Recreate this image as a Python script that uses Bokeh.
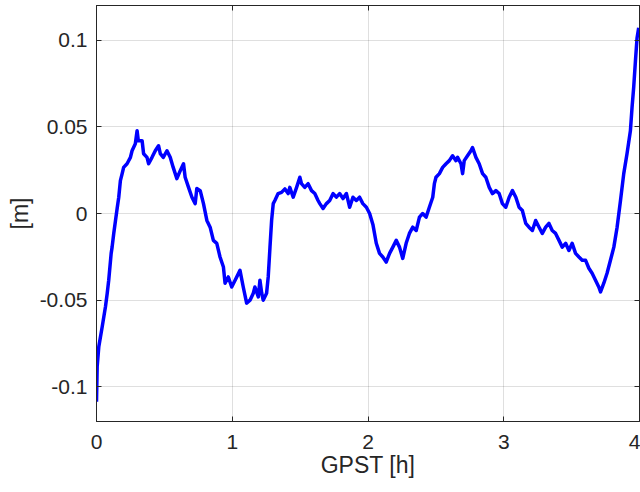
from bokeh.plotting import figure
from bokeh.models import LinearAxis, FixedTicker, Range1d
from bokeh.embed import file_html
from bokeh.resources import INLINE

# ---- data ----
gpst_h = [0.000, 0.005, 0.017, 0.042, 0.066, 0.079, 0.090, 0.108, 0.115, 0.127,
          0.140, 0.152, 0.164, 0.176, 0.189, 0.200, 0.225, 0.250, 0.262, 0.286,
          0.299, 0.308, 0.336, 0.347, 0.372, 0.384, 0.409, 0.433, 0.457, 0.470,
          0.492, 0.519, 0.543, 0.565, 0.592, 0.617, 0.641, 0.653, 0.678, 0.703,
          0.727, 0.739, 0.764, 0.788, 0.813, 0.837, 0.861, 0.886, 0.910, 0.935,
          0.947, 0.971, 0.996, 1.021, 1.057, 1.081, 1.106, 1.131, 1.155, 1.167,
          1.192, 1.204, 1.217, 1.228, 1.253, 1.265, 1.278, 1.290, 1.302, 1.314,
          1.338, 1.363, 1.388, 1.412, 1.424, 1.449, 1.474, 1.498, 1.510, 1.534,
          1.559, 1.584, 1.608, 1.632, 1.645, 1.669, 1.694, 1.718, 1.743, 1.767,
          1.791, 1.816, 1.841, 1.865, 1.889, 1.914, 1.938, 1.962, 1.988, 2.012,
          2.036, 2.061, 2.085, 2.109, 2.134, 2.159, 2.183, 2.208, 2.232, 2.256,
          2.281, 2.305, 2.330, 2.355, 2.379, 2.403, 2.428, 2.452, 2.477, 2.489,
          2.501, 2.526, 2.550, 2.575, 2.599, 2.623, 2.648, 2.660, 2.685, 2.697,
          2.709, 2.733, 2.758, 2.770, 2.795, 2.819, 2.844, 2.868, 2.893, 2.917,
          2.942, 2.966, 2.990, 3.015, 3.040, 3.064, 3.089, 3.113, 3.137, 3.162,
          3.186, 3.211, 3.235, 3.260, 3.284, 3.309, 3.333, 3.357, 3.382, 3.407,
          3.431, 3.456, 3.480, 3.504, 3.529, 3.554, 3.578, 3.603, 3.627, 3.651,
          3.676, 3.700, 3.713, 3.737, 3.761, 3.786, 3.811, 3.835, 3.860, 3.884,
          3.908, 3.933, 3.945, 3.957, 3.970, 3.982, 3.994]

error_m = [-0.1086, -0.0883, -0.0768, -0.0653, -0.0538, -0.0460, -0.0385, -0.0230, -0.0194, -0.0115,
           -0.0040, 0.0029, 0.0094, 0.0190, 0.0230, 0.0266, 0.0287, 0.0324, 0.0362, 0.0402,
           0.0477, 0.0420, 0.0420, 0.0345, 0.0324, 0.0287, 0.0324, 0.0362, 0.0391, 0.0345,
           0.0324, 0.0362, 0.0324, 0.0266, 0.0201, 0.0247, 0.0287, 0.0209, 0.0151, 0.0094,
           0.0057, 0.0144, 0.0132, 0.0057, -0.0040, -0.0079, -0.0155, -0.0172, -0.0251, -0.0309,
           -0.0402, -0.0366, -0.0424, -0.0385, -0.0328, -0.0424, -0.0517, -0.0500, -0.0460, -0.0424,
           -0.0481, -0.0385, -0.0460, -0.0500, -0.0460, -0.0366, -0.0194, -0.0040, 0.0057, 0.0075,
           0.0115, 0.0122, 0.0142, 0.0115, 0.0151, 0.0094, 0.0151, 0.0209, 0.0172, 0.0151,
           0.0172, 0.0132, 0.0115, 0.0075, 0.0057, 0.0029, 0.0057, 0.0075, 0.0115, 0.0094,
           0.0115, 0.0086, 0.0115, 0.0036, 0.0094, 0.0075, 0.0094, 0.0057, 0.0036, 0.0000,
           -0.0063, -0.0172, -0.0230, -0.0251, -0.0280, -0.0230, -0.0194, -0.0155, -0.0194, -0.0259,
           -0.0172, -0.0115, -0.0079, -0.0098, -0.0021, 0.0000, -0.0021, 0.0036, 0.0094, 0.0172,
           0.0209, 0.0230, 0.0266, 0.0287, 0.0305, 0.0333, 0.0305, 0.0324, 0.0287, 0.0230,
           0.0305, 0.0333, 0.0362, 0.0381, 0.0324, 0.0287, 0.0230, 0.0209, 0.0151, 0.0115,
           0.0132, 0.0115, 0.0057, 0.0036, 0.0094, 0.0132, 0.0094, 0.0036, 0.0017, -0.0057,
           -0.0079, -0.0098, -0.0040, -0.0079, -0.0115, -0.0079, -0.0057, -0.0098, -0.0115, -0.0155,
           -0.0194, -0.0172, -0.0213, -0.0172, -0.0230, -0.0251, -0.0270, -0.0270, -0.0316, -0.0345,
           -0.0385, -0.0424, -0.0452, -0.0402, -0.0345, -0.0270, -0.0194, -0.0079, 0.0075, 0.0230,
           0.0345, 0.0477, 0.0611, 0.0726, 0.0879, 0.1013, 0.1071]

x_ticks = [0, 1, 2, 3, 4]
x_tick_labels = ["0", "1", "2", "3", "4"]
y_ticks = [-0.1, -0.05, 0, 0.05, 0.1]
y_tick_labels = ["-0.1", "-0.05", "0", "0.05", "0.1"]
x_label = "GPST [h]"
y_label = "[m]"

AX = "#262626"
FONT = "Liberation Sans"

p = figure(width=640, height=492, output_backend="svg", toolbar_location=None,
           x_range=Range1d(0, 4), y_range=Range1d(-0.12, 0.12),
           min_border_left=96, min_border_right=1, min_border_top=5, min_border_bottom=71,
           background_fill_color="white", border_fill_color="white")
p.outline_line_color = AX

p.line(gpst_h, error_m, line_color="#0000ff", line_width=3.5, line_join="round")

def style(ax, ticks, labels, show_labels):
    ax.ticker = FixedTicker(ticks=ticks)
    ax.axis_line_color = AX
    ax.major_tick_line_color = AX
    ax.major_tick_in = 5
    ax.major_tick_out = 0
    ax.minor_tick_line_color = None
    ax.major_label_text_font = FONT
    if show_labels:
        ax.major_label_overrides = {t: l for t, l in zip(ticks, labels)}
        ax.major_label_text_font_size = "21px"
        ax.major_label_text_color = AX
    else:
        ax.major_label_text_font_size = "0px"
        ax.major_label_text_color = None
        ax.major_label_standoff = 0

xa = p.xaxis[0]
style(xa, x_ticks, x_tick_labels, True)
xa.major_label_standoff = 13
xa.axis_label = x_label
xa.axis_label_text_font = FONT
xa.axis_label_text_font_size = "23px"
xa.axis_label_text_font_style = "normal"
xa.axis_label_text_color = AX
xa.axis_label_standoff = 0

ya = p.yaxis[0]
style(ya, y_ticks, y_tick_labels, True)
ya.major_label_standoff = 9
ya.axis_label = y_label
ya.axis_label_text_font = FONT
ya.axis_label_text_font_size = "23px"
ya.axis_label_text_font_style = "normal"
ya.axis_label_text_color = AX
ya.axis_label_standoff = 4

top = LinearAxis()
style(top, x_ticks, x_tick_labels, False)
p.add_layout(top, "above")
right = LinearAxis()
style(right, y_ticks, y_tick_labels, False)
p.add_layout(right, "right")

for g, t in ((p.xgrid[0], x_ticks), (p.ygrid[0], y_ticks)):
    g.ticker = FixedTicker(ticks=t)
    g.grid_line_color = AX
    g.grid_line_alpha = 0.15
    g.grid_line_width = 1

open("out.html", "w").write(file_html(p, INLINE))
